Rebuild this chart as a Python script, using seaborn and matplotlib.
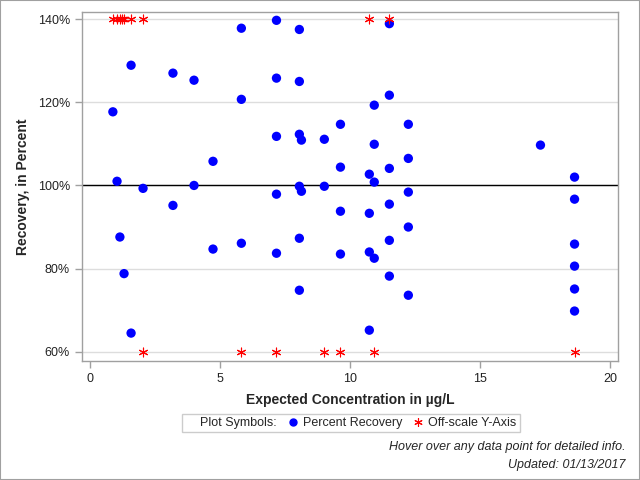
import seaborn as sns
import matplotlib.pyplot as plt
import pandas as pd
from matplotlib.lines import Line2D
from matplotlib.patches import Rectangle
from matplotlib.ticker import FuncFormatter

# measured points: expected concentration (ug/L) and percent recovery
conc = [0.88, 1.04, 1.15, 1.31, 1.58, 1.58, 2.04, 3.19, 3.19, 4.0, 4.0, 4.73, 4.73,
        5.82, 5.82, 5.82,
        7.17, 7.17, 7.17, 7.17, 7.17,
        8.05, 8.05, 8.05, 8.05, 8.05, 8.05, 8.13, 8.13,
        9.01, 9.01, 9.63, 9.63, 9.63, 9.63,
        10.74, 10.74, 10.74, 10.74, 10.93, 10.93, 10.93, 10.93,
        11.51, 11.51, 11.51, 11.51, 11.51, 11.51,
        12.24, 12.24, 12.24, 12.24, 12.24,
        17.32,
        18.63, 18.63, 18.63, 18.63, 18.63, 18.63]
recovery = [117.7, 101.0, 87.6, 78.8, 128.9, 64.5, 99.3, 127.0, 95.2, 125.3, 100.0, 105.8, 84.7,
            137.8, 120.7, 86.1,
            139.7, 125.8, 111.8, 97.9, 83.7,
            137.5, 125.0, 112.3, 99.8, 87.3, 74.8, 110.9, 98.6,
            111.1, 99.8, 114.7, 104.4, 93.8, 83.5,
            102.7, 93.3, 84.0, 65.2, 119.3, 109.9, 100.8, 82.5,
            138.9, 121.7, 104.1, 95.5, 86.8, 78.2,
            114.7, 106.5, 98.4, 90.0, 73.6,
            109.7,
            102.0, 96.7, 85.9, 80.6, 75.1, 69.8]

# off-scale points, pinned to the axis limits
off_conc = [0.88, 1.04, 1.15, 1.22, 1.31, 1.58, 2.04, 10.74, 11.51,
            2.04, 5.82, 7.17, 9.01, 9.63, 10.93, 18.63]
off_y = [140, 140, 140, 140, 140, 140, 140, 140, 140,
         60, 60, 60, 60, 60, 60, 60]

y_ticks = [60, 80, 100, 120, 140]
x_ticks = [0, 5, 10, 15, 20]

sns.set_theme(style="white")
plt.rcParams['font.family'] = ['Liberation Sans', 'DejaVu Sans']

pts = pd.DataFrame({'conc': conc, 'recovery': recovery})
off = pd.DataFrame({'conc': off_conc, 'recovery': off_y})

fig = plt.figure(figsize=(6.4, 4.8), dpi=100)
ax = fig.add_axes([0.128, 0.248, 0.838, 0.727])

for y in y_ticks:
    ax.axhline(y, color='#dddddd', lw=1, zorder=0)
ax.axhline(100, color='black', lw=1, zorder=1)

sns.scatterplot(data=pts, x='conc', y='recovery', ax=ax, color='#0000ff',
                s=45, edgecolor='none', zorder=3)
ax.scatter(off['conc'], off['recovery'], marker=(6, 2, 0), s=40,
           color='red', linewidths=0.8, zorder=4)

ax.set_xlim(-0.31, 20.31)
ax.set_ylim(57.8, 141.7)
ax.set_xticks(x_ticks)
ax.set_yticks(y_ticks)
ax.yaxis.set_major_formatter(FuncFormatter(lambda v, p: f"{v:.0f}%"))
ax.tick_params(direction='out', length=5, width=1, color='#a0a0a0',
               labelsize=9, labelcolor='#222222', left=True, bottom=True)
for sp in ax.spines.values():
    sp.set_color('#a0a0a0')
    sp.set_linewidth(1)
ax.set_xlabel('Expected Concentration in µg/L', fontsize=10, fontweight='bold', labelpad=6)
ax.set_ylabel('Recovery, in Percent', fontsize=10, fontweight='bold', labelpad=6)

handles = [Line2D([], [], linestyle='none'),
           Line2D([], [], marker='o', color='#0000ff', linestyle='none', markersize=5),
           Line2D([], [], marker=(6, 2, 0), color='red', linestyle='none', markersize=6,
                  markeredgewidth=0.8)]
labels = ['Plot Symbols:', 'Percent Recovery', 'Off-scale Y-Axis']
leg = fig.legend(handles, labels, ncol=3, loc='center', bbox_to_anchor=(0.548, 0.119),
                 fontsize=9, frameon=True, fancybox=False, edgecolor='#c0c0c0',
                 handlelength=0.8, handletextpad=0.4, columnspacing=0.9,
                 borderpad=0.25)
leg.get_frame().set_linewidth(1)

fig.text(0.977, 0.069, 'Hover over any data point for detailed info.', ha='right',
         va='center', fontsize=9, style='italic')
fig.text(0.977, 0.031, 'Updated: 01/13/2017', ha='right', va='center',
         fontsize=9, style='italic')

fig.patches.append(Rectangle((0, 0), 1, 1, transform=fig.transFigure, fill=False,
                             edgecolor='#a0a0a0', lw=1.5))

plt.savefig('out.png', dpi=100)
plt.close()
